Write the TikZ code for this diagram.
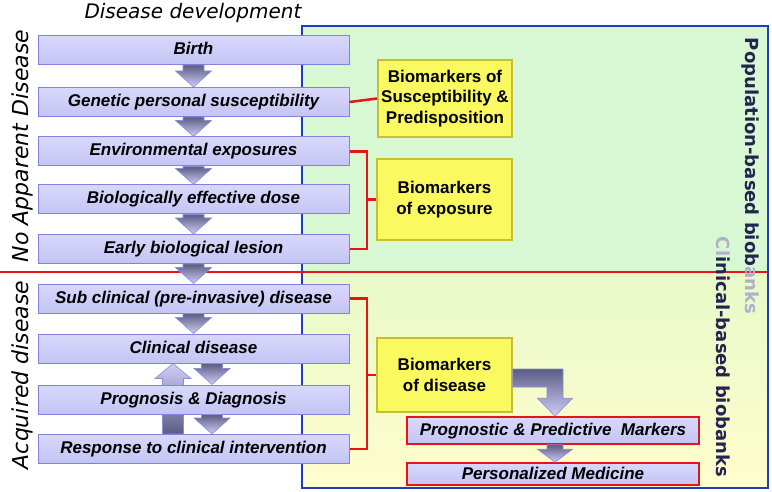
\documentclass[tikz,border=0pt]{standalone}
\usepackage{fontspec}
\setsansfont{Liberation Sans}
\newfontfamily\verdfont{DejaVu Sans}
\usepackage{tikz}
\usetikzlibrary{calc,backgrounds}
\definecolor{stagetop}{RGB}{216,216,252}
\definecolor{stagebot}{RGB}{196,196,244}
\definecolor{stageline}{RGB}{130,130,222}
\definecolor{markfill}{RGB}{250,250,96}
\definecolor{markline}{RGB}{200,190,50}
\definecolor{arrdark}{RGB}{92,92,132}
\definecolor{arrlight}{RGB}{206,206,248}
\definecolor{arrline}{RGB}{140,140,215}
\definecolor{bankblue}{RGB}{30,60,200}
\definecolor{popgreen}{RGB}{216,248,212}
\definecolor{clinmid}{RGB}{232,249,200}
\definecolor{clinyel}{RGB}{255,253,205}
\definecolor{banktxt}{RGB}{36,36,80}
\definecolor{bankfade}{RGB}{176,176,204}
\definecolor{sepred}{RGB}{230,20,20}

% block arrow between two boxes, #3 = sideways shift
\newcommand{\dnblk}[3]{%
  \path[blockdn] let \p1=(#1.south), \p2=(#2.north) in
    (\x1+#3-10.5pt,\y1) -- (\x1+#3+10.5pt,\y1) -- (\x1+#3+10.5pt,\y2+16pt)
    -- (\x1+#3+18pt,\y2+16pt) -- (\x1+#3,\y2) -- (\x1+#3-18pt,\y2+16pt)
    -- (\x1+#3-10.5pt,\y2+16pt) -- cycle;}
\newcommand{\upblk}[3]{%
  \path[blockup] let \p1=(#1.north), \p2=(#2.south) in
    (\x1+#3-10.5pt,\y1) -- (\x1+#3+10.5pt,\y1) -- (\x1+#3+10.5pt,\y2-15pt)
    -- (\x1+#3+18pt,\y2-15pt) -- (\x1+#3,\y2) -- (\x1+#3-18pt,\y2-15pt)
    -- (\x1+#3-10.5pt,\y2-15pt) -- cycle;}

\begin{document}
\begin{tikzpicture}[x=1pt,y=-1pt,
    stage/.style={rectangle,draw=stageline,line width=1pt,top color=stagetop,bottom color=stagebot,
      minimum width=311pt,minimum height=29pt,inner sep=0pt,text height=12.5pt,text depth=3.5pt,
      font=\sffamily\bfseries\itshape\fontsize{17}{20}\selectfont},
    outbox/.style={stage,draw=sepred,line width=1.5pt,minimum width=292pt},
    markbox/.style={rectangle,draw=markline,line width=1.5pt,fill=markfill,align=center,
      inner sep=0pt,font=\sffamily\bfseries\fontsize{17}{20.5}\selectfont},
    blockdn/.style={top color=arrdark,bottom color=arrlight,draw=arrline,line width=0.6pt},
    blockup/.style={top color=arrlight,bottom color=arrdark,draw=arrline,line width=0.6pt},
    redlink/.style={sepred,line width=2.5pt},
    sidelabel/.style={font=\verdfont\itshape\fontsize{22}{24}\selectfont,rotate=90},
    banklabel/.style={font=\verdfont\bfseries\fontsize{18}{20}\selectfont,rotate=-90,text=banktxt}]

  \useasboundingbox (0,0) rectangle (772,492);

  % biobank areas
  \fill[popgreen] (302,26) rectangle (768,272);
  \shade[top color=clinmid,bottom color=clinyel] (302,272) rectangle (768,488);
  \draw[bankblue,line width=1.8pt] (302,26) rectangle (768,488);
  \draw[sepred,line width=1.2pt] (0,272) -- (768,272);

  % titles
  \node (title) at (193,13) {\verdfont\itshape\fontsize{20}{22}\selectfont Disease development};
  \node[sidelabel] (noapp) at (22,146) {No Apparent Disease};
  \node[sidelabel] (acq) at (22,375) {Acquired disease};
  \node[banklabel] (popbank) at (750,176) {Population-based biob\textcolor{bankfade}{anks}};
  \node[banklabel] (clinbank) at (723,357) {\textcolor{bankfade}{Cl}inical-based biobanks};

  % disease stages
  \node[stage] (birth)    at (193.5,50)    {Birth};
  \node[stage] (genetic)  at (193.5,102)   {Genetic personal susceptibility};
  \node[stage] (envir)    at (193.5,151.5) {Environmental exposures};
  \node[stage] (dose)     at (193.5,199.5) {Biologically effective dose};
  \node[stage] (lesion)   at (193.5,249)   {Early biological lesion};
  \node[stage] (subclin)  at (193.5,298.5) {Sub clinical (pre-invasive) disease};
  \node[stage] (clinical) at (193.5,348.5) {Clinical disease};
  \node[stage] (progdiag) at (193.5,399.5) {Prognosis \& Diagnosis};
  \node[stage] (response) at (193.5,449)   {Response to clinical intervention};

  % biomarkers
  \node[markbox,minimum width=134pt,minimum height=77pt] (sus) at (445,98.5)
    {Biomarkers of\\Susceptibility \&\\Predisposition};
  \node[markbox,minimum width=135pt,minimum height=81pt] (expo) at (444.5,199.5)
    {Biomarkers\\of exposure};
  \node[markbox,minimum width=135pt,minimum height=74pt] (dis) at (444.5,375)
    {Biomarkers\\of disease};
  \node[outbox,minimum height=27pt] (prognostic) at (553,430.5) {Prognostic \& Predictive~ Markers};
  \node[outbox,minimum height=22pt,text height=11.5pt,text depth=1pt] (personal) at (553,474)
    {Personalized Medicine};

  % red links
  \coordinate (brk1) at (367,199.5);
  \coordinate (brk2) at (367,375);
  \draw[redlink] (genetic.east) -- (sus.west);
  \draw[redlink] (envir.east) -| (brk1) |- (lesion.east);
  \draw[redlink] (brk1) -- (expo.west);
  \draw[redlink] (subclin.east) -| (brk2) |- (response.east);
  \draw[redlink] (brk2) -- (dis.west);

  % block arrows
  \foreach \a/\b in {birth/genetic,genetic/envir,envir/dose,dose/lesion,lesion/subclin,subclin/clinical}
    \dnblk{\a}{\b}{0pt};
  \dnblk{clinical}{progdiag}{18.5pt}
  \dnblk{progdiag}{response}{18.5pt}
  \begin{scope}[on background layer]
    \upblk{response}{clinical}{-20.5pt}
  \end{scope}
  \path[blockdn] let \p1=(dis.east), \p2=(prognostic.north) in
    (\x1,\y1+6pt) -- (\x2+10pt,\y1+6pt) -- (\x2+10pt,\y2+18pt) -- (\x2+19.5pt,\y2+18pt)
    -- (\x2+2pt,\y2) -- (\x2-15.5pt,\y2+18pt) -- (\x2-6pt,\y2+18pt) -- (\x2-6pt,\y1-12pt)
    -- (\x1,\y1-12pt) -- cycle;
  \path[blockdn] let \p1=(prognostic.south), \p2=(personal.north) in
    (\x1-6pt,\y1) -- (\x1+10pt,\y1) -- (\x1+10pt,\y2+13pt) -- (\x1+19.5pt,\y2+13pt)
    -- (\x1+2pt,\y2) -- (\x1-15.5pt,\y2+13pt) -- (\x1-6pt,\y2+13pt) -- cycle;

\end{tikzpicture}
\end{document}
